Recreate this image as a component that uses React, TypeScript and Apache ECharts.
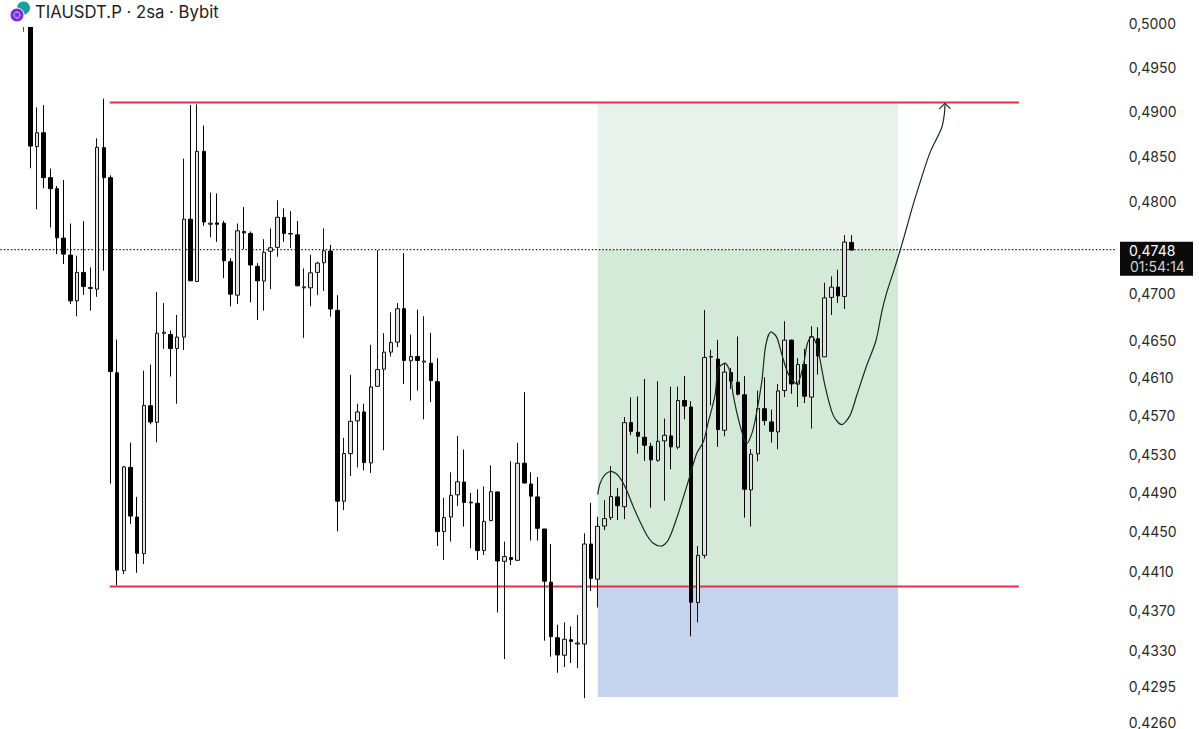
import React, { useEffect, useRef } from "react";
import * as echarts from "echarts";

const opens = [.50045,.50045,.48612,.48767,.48267,.48145,.47602,.47417,.46922,.47229,
.47055,.47048,.48600,.48267,.46153,.44105,.45163,.44651,.44278,.45806,
.45632,.46573,.46561,.46412,.46533,.47809,.47131,.48559,.47754,.47768,
.47765,.47345,.46983,.47675,.47653,.47295,.47135,.47458,.47501,.47827,
.47646,.47638,.47062,.47062,.47229,.47334,.47461,.46820,.44814,.45306,
.45647,.45741,.45209,.46011,.46192,.46373,.46480,.46837,.46281,.46326,
.46267,.46256,.46060,.44502,.44651,.44879,.45011,.44804,.44793,.44309,
.44614,.44909,.44200,.44238,.44210,.45206,.44991,.44858,.44529,.43989,
.43432,.43257,.43412,.43369,.43369,.44376,.44019,.44559,.44645,.44858,
.44757,.45629,.45528,.45476,.45382,.45236,.45438,.45490,.45372,.45861,
.45793,.43784,.44261,.46320,.46299,.45549,.46156,.46054,.45921,.44930,
.45303,.45775,.45636,.45532,.45966,.46501,.46033,.46241,.45897,.46515,
.46323,.46959,.47070,.46969,.47555];
const closes = [.50045,.48618,.48767,.48267,.48145,.47605,.47428,.46922,.47229,.47077,
.47066,.48604,.48267,.46167,.44111,.45167,.44661,.44281,.45809,.45636,
.46575,.46586,.46412,.46533,.47809,.47138,.48559,.47779,.47765,.47754,
.47355,.46994,.47682,.47660,.47309,.47138,.47447,.47497,.47830,.47653,
.47653,.47084,.47073,.47225,.47330,.47464,.46834,.44814,.45306,.45643,
.45741,.45212,.46004,.46188,.46373,.46475,.46837,.46284,.46326,.46284,
.46278,.46071,.44502,.44645,.44875,.45014,.44800,.44797,.44309,.44607,
.44912,.44203,.44248,.44217,.45206,.45001,.44865,.44536,.43999,.43442,
.43260,.43416,.43396,.43379,.44376,.44027,.44556,.44635,.44862,.44767,
.45629,.45538,.45486,.45393,.45240,.45434,.45497,.45376,.45861,.45803,
.43787,.44260,.46316,.46326,.45556,.46161,.46065,.45928,.44936,.45299,
.45778,.45650,.45538,.45962,.46501,.46036,.46241,.45907,.46536,.46331,
.46954,.47070,.46976,.47559,.47472];
const lows = [.49910,.48371,.47917,.48149,.47718,.47428,.47320,.46887,.46756,.46986,
.46816,.46965,.47247,.44994,.43959,.44071,.44580,.44084,.44172,.45611,
.45424,.46408,.46114,.45827,.46395,.47135,.47124,.47736,.47610,.47562,
.47167,.46863,.46887,.47483,.46905,.46717,.46816,.47048,.47399,.47562,
.47493,.47080,.46525,.46863,.46983,.47029,.46752,.44505,.44722,.45074,
.45162,.45132,.45105,.46004,.45340,.46326,.46426,.46036,.45861,.45966,
.45663,.45845,.44356,.44213,.44400,.44763,.44553,.44332,.44213,.44264,
.44610,.43685,.43220,.44162,.44207,.44997,.44411,.44411,.43402,.43243,
.43084,.43140,.43180,.43130,.42834,.43900,.43734,.44518,.44620,.44620,
.44630,.45497,.45306,.45230,.44747,.45220,.44818,.45142,.45351,.45663,
.43446,.43585,.44230,.45809,.45376,.45486,.45983,.45914,.44645,.44553,
.45226,.45601,.45421,.45351,.45897,.45931,.45793,.45834,.45567,.46135,
.46320,.46770,.46898,.46834,.47468];
const highs = [.50045,.50045,.49051,.49077,.48367,.48174,.48241,.47762,.47410,.47787,
.47284,.48704,.49149,.48293,.46507,.45177,.45421,.44859,.46177,.46241,
.47018,.46898,.46603,.46770,.48478,.49077,.49085,.48848,.48101,.48093,
.47790,.47382,.47762,.47942,.47675,.47330,.47591,.47708,.48017,.47928,
.47899,.47790,.47273,.47421,.47345,.47708,.47529,.46983,.45470,.46132,
.45827,.45827,.46451,.47472,.46575,.46799,.46898,.47439,.46561,.46827,
.46756,.46579,.46309,.44848,.45112,.45490,.45348,.44899,.44936,.44966,
.45184,.44915,.44400,.45226,.45418,.45949,.45112,.45063,.44529,.44376,
.43561,.43585,.43545,.43658,.44485,.44797,.44655,.44824,.45177,.44950,
.45688,.45893,.45903,.46088,.45418,.46065,.45671,.46007,.46007,.46118,
.45855,.44356,.46823,.46398,.46504,.46249,.46206,.46539,.46118,.45351,
.45966,.46107,.45765,.46036,.46703,.46507,.46309,.46408,.46650,.46639,
.47118,.47186,.47258,.47635,.47635];

const priceTicks = [0.5, 0.495, 0.49, 0.485, 0.48, 0.47, 0.465, 0.461, 0.457, 0.453, 0.449, 0.445, 0.441, 0.437, 0.433, 0.4295, 0.426];

const curveX = [89.5,89.84,90.59,91.49,92.34,93.09,93.84,94.83,95.84,96.84,97.83,98.98,100.07,101.33,102.58,103.33,104.33,105.32,106.07,107.07,107.57,108.57,109.32,109.81,110.82,111.82,112.81,114.07,114.67,115.46,116.31,117.06,118.05,119.31,120.30,120.90,121.56,122.40,123.55,124.79,126.05,127.30,128.30,129.80,131.19,132.04,132.79,133.78,134.79,135.79,136.69,137.78,139.28,141.03,141.42,141.53];
const curveP = [.44882,.44994,.45087,.45122,.45094,.45028,.44926,.44757,.44604,.44468,.44383,.44353,.44417,.44638,.44909,.4508,.45306,.45428,.45636,.45914,.46196,.46256,.4616,.45914,.45601,.4541,.45567,.46054,.46444,.46589,.46533,.46355,.46142,.46036,.46231,.46462,.46544,.46426,.46018,.45705,.45608,.45705,.45914,.46231,.46497,.46799,.47010,.47229,.47464,.47718,.47953,.48212,.48545,.48822,.48970,.49085];
const arrowX = [140.67, 141.53, 142.35];
const arrowP = [.49034, .49096, .49034];

const topLevel = 0.49107;
const bottomLevel = 0.43946;
const levelFrom = 16.4;
const levelTo = 152.6;
const zoneFrom = 89.5;
const zoneTo = 134.5;
const stopLevel = 0.42844;
const lastPrice = 0.47477;
const zoneColors = ["#e8f2ea", "#d4e9d8", "#c6d3ef"];

const slots = 168;
const leadSlots = 3;

const fmt = (v: number) => v.toFixed(4).replace(".", ",");

export default function App() {
  const ref = useRef<HTMLDivElement>(null);
  useEffect(() => {
    document.body.style.margin = "0";
    const chart = echarts.init(ref.current!, undefined, { renderer: "svg" });
    const zones = [
      [zoneFrom, zoneTo, topLevel, lastPrice],
      [zoneFrom, zoneTo, lastPrice, bottomLevel],
      [zoneFrom, zoneTo, bottomLevel, stopLevel],
    ];
    const straight = (data: number[][], color: string, width: number, z: number, type: any = "solid") => ({
      type: "line",
      xAxisIndex: 1,
      yAxisIndex: 0,
      data,
      symbol: "none",
      silent: true,
      z,
      lineStyle: { color, width, type },
    });
    chart.setOption({
      animation: false,
      backgroundColor: "#ffffff",
      grid: { left: 0.3, top: 0, width: 1121.4, height: 729 },
      xAxis: [
        {
          type: "category",
          data: Array.from({ length: slots }, (_, i) => String(i)),
          show: false,
        },
        { type: "value", min: 0, max: slots, show: false },
      ],
      yAxis: {
        type: "log",
        position: "right",
        min: 0.42548,
        max: 0.50275,
        axisLine: { show: false },
        axisTick: { show: false },
        splitLine: { show: false },
        minorSplitLine: { show: false },
        axisLabel: {
          customValues: priceTicks,
          margin: 7,
          color: "#2a2a2a",
          fontFamily: "Inter",
          fontSize: 14,
          formatter: (v: number) => fmt(v),
        },
      },
      series: [
        {
          type: "custom",
          xAxisIndex: 1,
          yAxisIndex: 0,
          silent: true,
          z: 1,
          data: zones,
          encode: { x: [0, 1], y: [2, 3] },
          renderItem: (params: any, api: any) => {
            const a = api.coord([api.value(0), api.value(2)]);
            const b = api.coord([api.value(1), api.value(3)]);
            return {
              type: "rect",
              shape: { x: a[0], y: a[1], width: b[0] - a[0], height: b[1] - a[1] },
              style: { fill: zoneColors[params.dataIndex] },
            };
          },
        },
        straight([[0, lastPrice], [167.3, lastPrice]], "#222222", 1.2, 2, [1.5, 2]),
        straight([[levelFrom, topLevel], [levelTo, topLevel]], "#e2304b", 2, 3),
        straight([[levelFrom, bottomLevel], [levelTo, bottomLevel]], "#e2304b", 2, 3),
        {
          type: "candlestick",
          xAxisIndex: 0,
          yAxisIndex: 0,
          barWidth: 4,
          z: 4,
          encode: { x: 0, y: [1, 2, 3, 4] },
          itemStyle: {
            color: "#e2e2e2",
            color0: "#000000",
            borderColor: "#111111",
            borderColor0: "#000000",
            borderColorDoji: "#444444",
            borderWidth: 1,
          },
          data: opens.map((o, i) => [i + leadSlots, o, closes[i], lows[i], highs[i]]),
        },
        {
          type: "line",
          xAxisIndex: 1,
          yAxisIndex: 0,
          smooth: 0.3,
          symbol: "none",
          silent: true,
          z: 5,
          lineStyle: { color: "#1a2a1f", width: 1.2 },
          data: curveX.map((x, i) => [x, curveP[i]]),
        },
        {
          ...straight(arrowX.map((x, i) => [x, arrowP[i]]), "#1a2a1f", 1.2, 5),
        },
      ],
      graphic: [
        { type: "rect", z: 100, shape: { x: 0, y: 0, width: 1120, height: 27 }, style: { fill: "#ffffff" } },
        { type: "circle", z: 101, shape: { cx: 23.5, cy: 8, r: 6.5 }, style: { fill: "#1f9e9e" } },
        { type: "circle", z: 102, shape: { cx: 17, cy: 15, r: 7 }, style: { fill: "#7a2fe0", stroke: "#ffffff", lineWidth: 1 } },
        { type: "circle", z: 103, shape: { cx: 17, cy: 15, r: 3 }, style: { fill: "none", stroke: "#e6d4ff", lineWidth: 1 } },
        {
          type: "text",
          z: 101,
          x: 35,
          y: 12,
          style: {
            text: "TIAUSDT.P · 2sa · Bybit",
            fill: "#222222",
            font: "16.7px Inter",
            textVerticalAlign: "middle",
          },
        },
        { type: "rect", z: 100, shape: { x: 1120, y: 241.7, width: 73, height: 34 }, style: { fill: "#0a0a0a" } },
        {
          type: "text",
          z: 101,
          x: 1129,
          y: 250,
          style: { text: "0,4748", fill: "#ffffff", font: "14px Inter", textVerticalAlign: "middle" },
        },
        {
          type: "text",
          z: 101,
          x: 1130,
          y: 266,
          style: { text: "01:54:14", fill: "#d0d0d0", font: "14px Inter", textVerticalAlign: "middle" },
        },
      ],
    });
    return () => chart.dispose();
  }, []);
  return <div ref={ref} style={{ position: "absolute", left: 0, top: 0, width: 1199, height: 729 }} />;
}
